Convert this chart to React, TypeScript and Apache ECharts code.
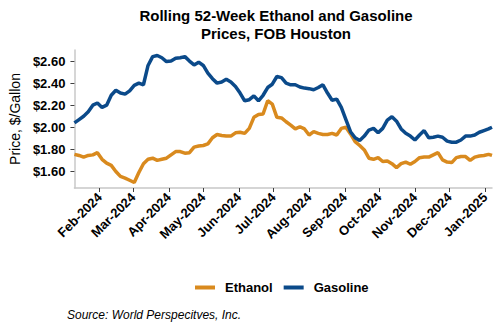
import React, { useEffect, useRef } from "react";
import * as echarts from "echarts";

const dates = [
  "2024-01-10","2024-01-14","2024-01-18","2024-01-22","2024-01-26","2024-01-30","2024-02-03","2024-02-07","2024-02-11","2024-02-15",
  "2024-02-19","2024-02-23","2024-02-27","2024-03-02","2024-03-06","2024-03-10","2024-03-14","2024-03-18","2024-03-22","2024-03-26",
  "2024-03-30","2024-04-03","2024-04-07","2024-04-11","2024-04-15","2024-04-19","2024-04-23","2024-04-27","2024-05-01","2024-05-05",
  "2024-05-09","2024-05-13","2024-05-17","2024-05-21","2024-05-25","2024-05-29","2024-06-02","2024-06-06","2024-06-10","2024-06-14",
  "2024-06-18","2024-06-22","2024-06-26","2024-06-30","2024-07-04","2024-07-08","2024-07-12","2024-07-16","2024-07-20","2024-07-24",
  "2024-07-28","2024-08-01","2024-08-05","2024-08-09","2024-08-13","2024-08-17","2024-08-21","2024-08-25","2024-08-29","2024-09-02",
  "2024-09-06","2024-09-10","2024-09-14","2024-09-18","2024-09-22","2024-09-26","2024-09-30","2024-10-04","2024-10-08","2024-10-12",
  "2024-10-16","2024-10-20","2024-10-24","2024-10-28","2024-11-01","2024-11-05","2024-11-09","2024-11-13","2024-11-17","2024-11-21",
  "2024-11-25","2024-11-29","2024-12-03","2024-12-07","2024-12-11","2024-12-15","2024-12-19","2024-12-23","2024-12-27","2024-12-31",
  "2025-01-04","2025-01-07",
];

const gasoline = [
  2.04, 2.07, 2.1, 2.14, 2.2, 2.22, 2.18, 2.2, 2.29, 2.335,
  2.31, 2.3, 2.33, 2.38, 2.4, 2.385, 2.56, 2.64, 2.65, 2.63,
  2.595, 2.6, 2.625, 2.63, 2.64, 2.6, 2.565, 2.59, 2.56, 2.49,
  2.44, 2.4, 2.41, 2.435, 2.41, 2.37, 2.31, 2.24, 2.25, 2.285,
  2.24, 2.29, 2.36, 2.39, 2.46, 2.45, 2.4, 2.385, 2.385, 2.365,
  2.355, 2.35, 2.34, 2.36, 2.385, 2.31, 2.245, 2.255, 2.18, 2.07,
  1.96, 1.905, 1.88, 1.92, 1.975, 1.99, 1.95, 1.99, 2.065, 2.095,
  2.055, 1.985, 1.945, 1.92, 1.885, 1.93, 1.97, 1.905, 1.91, 1.92,
  1.91, 1.875, 1.865, 1.865, 1.885, 1.92, 1.92, 1.93, 1.955, 1.97,
  1.985, 2.0,
];

const ethanol = [
  1.755, 1.745, 1.73, 1.745, 1.75, 1.77, 1.71, 1.675, 1.655, 1.6,
  1.555, 1.54, 1.52, 1.5, 1.59, 1.67, 1.71, 1.72, 1.7, 1.71,
  1.72, 1.75, 1.78, 1.78, 1.765, 1.77, 1.82, 1.83, 1.835, 1.85,
  1.905, 1.935, 1.925, 1.92, 1.92, 1.95, 1.955, 1.945, 1.99, 2.09,
  2.115, 2.12, 2.24, 2.21, 2.09, 2.085, 2.05, 2.02, 1.985, 2.005,
  1.985, 1.93, 1.96, 1.945, 1.935, 1.935, 1.945, 1.93, 1.99, 2.0,
  1.94, 1.87, 1.835, 1.795, 1.72, 1.71, 1.725, 1.69, 1.695, 1.67,
  1.635, 1.67, 1.685, 1.665, 1.69, 1.725, 1.73, 1.73, 1.75, 1.77,
  1.705, 1.685, 1.68, 1.725, 1.735, 1.735, 1.7, 1.73, 1.74, 1.745,
  1.755, 1.745,
];

const monthTicks = [
  "2024-02-01","2024-03-01","2024-04-01","2024-05-01","2024-06-01","2024-07-01",
  "2024-08-01","2024-09-01","2024-10-01","2024-11-01","2024-12-01","2025-01-01",
];
const monthNames = ["Jan","Feb","Mar","Apr","May","Jun","Jul","Aug","Sep","Oct","Nov","Dec"];
const yTicks = [1.6, 1.8, 2.0, 2.2, 2.4, 2.6];

const titleLines = ["Rolling 52-Week Ethanol and Gasoline", "Prices, FOB Houston"];
const sourceText = "Source: World Perspecitves, Inc.";

export default function App() {
  const ref = useRef<HTMLDivElement>(null);
  useEffect(() => {
    if (!ref.current) return;
    const chart = echarts.init(ref.current, undefined, { renderer: "svg" });
    const parse = (s: string) => +echarts.time.parse(s);
    const tickVals = monthTicks.map(parse);
    const font = "'Liberation Sans', Arial, sans-serif";
    chart.setOption({
      animation: false,
      textStyle: { fontFamily: font },
      grid: { left: 66, right: 8, top: 50, bottom: 142, containLabel: false },
      legend: {
        data: ["Ethanol", "Gasoline"],
        left: 190,
        top: 276,
        icon: "rect",
        itemWidth: 20,
        itemHeight: 4,
        itemGap: 11,
        textStyle: { fontSize: 13, fontWeight: "bold", color: "#000", fontFamily: font, padding: [0, 0, 0, 5] },
      },
      graphic: [
        {
          type: "text",
          x: 276,
          y: 6,
          style: {
            text: titleLines.join("\n"),
            font: `bold 15px ${font}`,
            fill: "#000",
            textAlign: "center",
            lineHeight: 18,
          },
        },
        {
          type: "text",
          x: 67,
          y: 309,
          style: {
            text: sourceText,
            font: `italic 12px ${font}`,
            fill: "#000",
          },
        },
      ],
      xAxis: {
        type: "value",
        min: parse(dates[0]),
        max: parse(dates[dates.length - 1]),
        axisLine: { show: true, lineStyle: { color: "#c8c8c8", width: 1.5 } },
        axisTick: {
          show: true,
          customValues: tickVals,
          length: 4,
          lineStyle: { color: "#404040", width: 1 },
        },
        axisLabel: {
          customValues: tickVals,
          rotate: 45,
          margin: 7,
          fontSize: 13,
          fontWeight: "bold",
          color: "#000",
          fontFamily: font,
          formatter: (v: number) => {
            const d = new Date(v);
            return monthNames[d.getMonth()] + "-" + d.getFullYear();
          },
        },
        splitLine: { show: false },
      },
      yAxis: {
        type: "value",
        min: 1.45,
        max: 2.7,
        name: "Price, $/Gallon",
        nameLocation: "middle",
        nameGap: 51,
        nameTextStyle: { fontSize: 14, color: "#000", fontFamily: font },
        axisLine: { show: true, lineStyle: { color: "#c8c8c8", width: 1.5 } },
        axisTick: { show: true, customValues: yTicks, length: 4, lineStyle: { color: "#404040" } },
        axisLabel: {
          customValues: yTicks,
          margin: 9,
          fontSize: 13,
          fontWeight: "bold",
          color: "#000",
          fontFamily: font,
          formatter: (v: number) => "$" + v.toFixed(2),
        },
        splitLine: { show: false },
      },
      series: [
        {
          name: "Ethanol",
          type: "line",
          showSymbol: false,
          data: dates.map((d, i) => [parse(d), ethanol[i]]),
          lineStyle: { color: "#D98A1E", width: 3.5 },
          itemStyle: { color: "#D98A1E" },
        },
        {
          name: "Gasoline",
          type: "line",
          showSymbol: false,
          data: dates.map((d, i) => [parse(d), gasoline[i]]),
          lineStyle: { color: "#0B4A8A", width: 3.5 },
          itemStyle: { color: "#0B4A8A" },
        },
      ],
    });
    return () => chart.dispose();
  }, []);
  return (
    <div
      ref={ref}
      style={{ position: "absolute", left: 0, top: 0, width: 500, height: 330, background: "#fff" }}
    />
  );
}
